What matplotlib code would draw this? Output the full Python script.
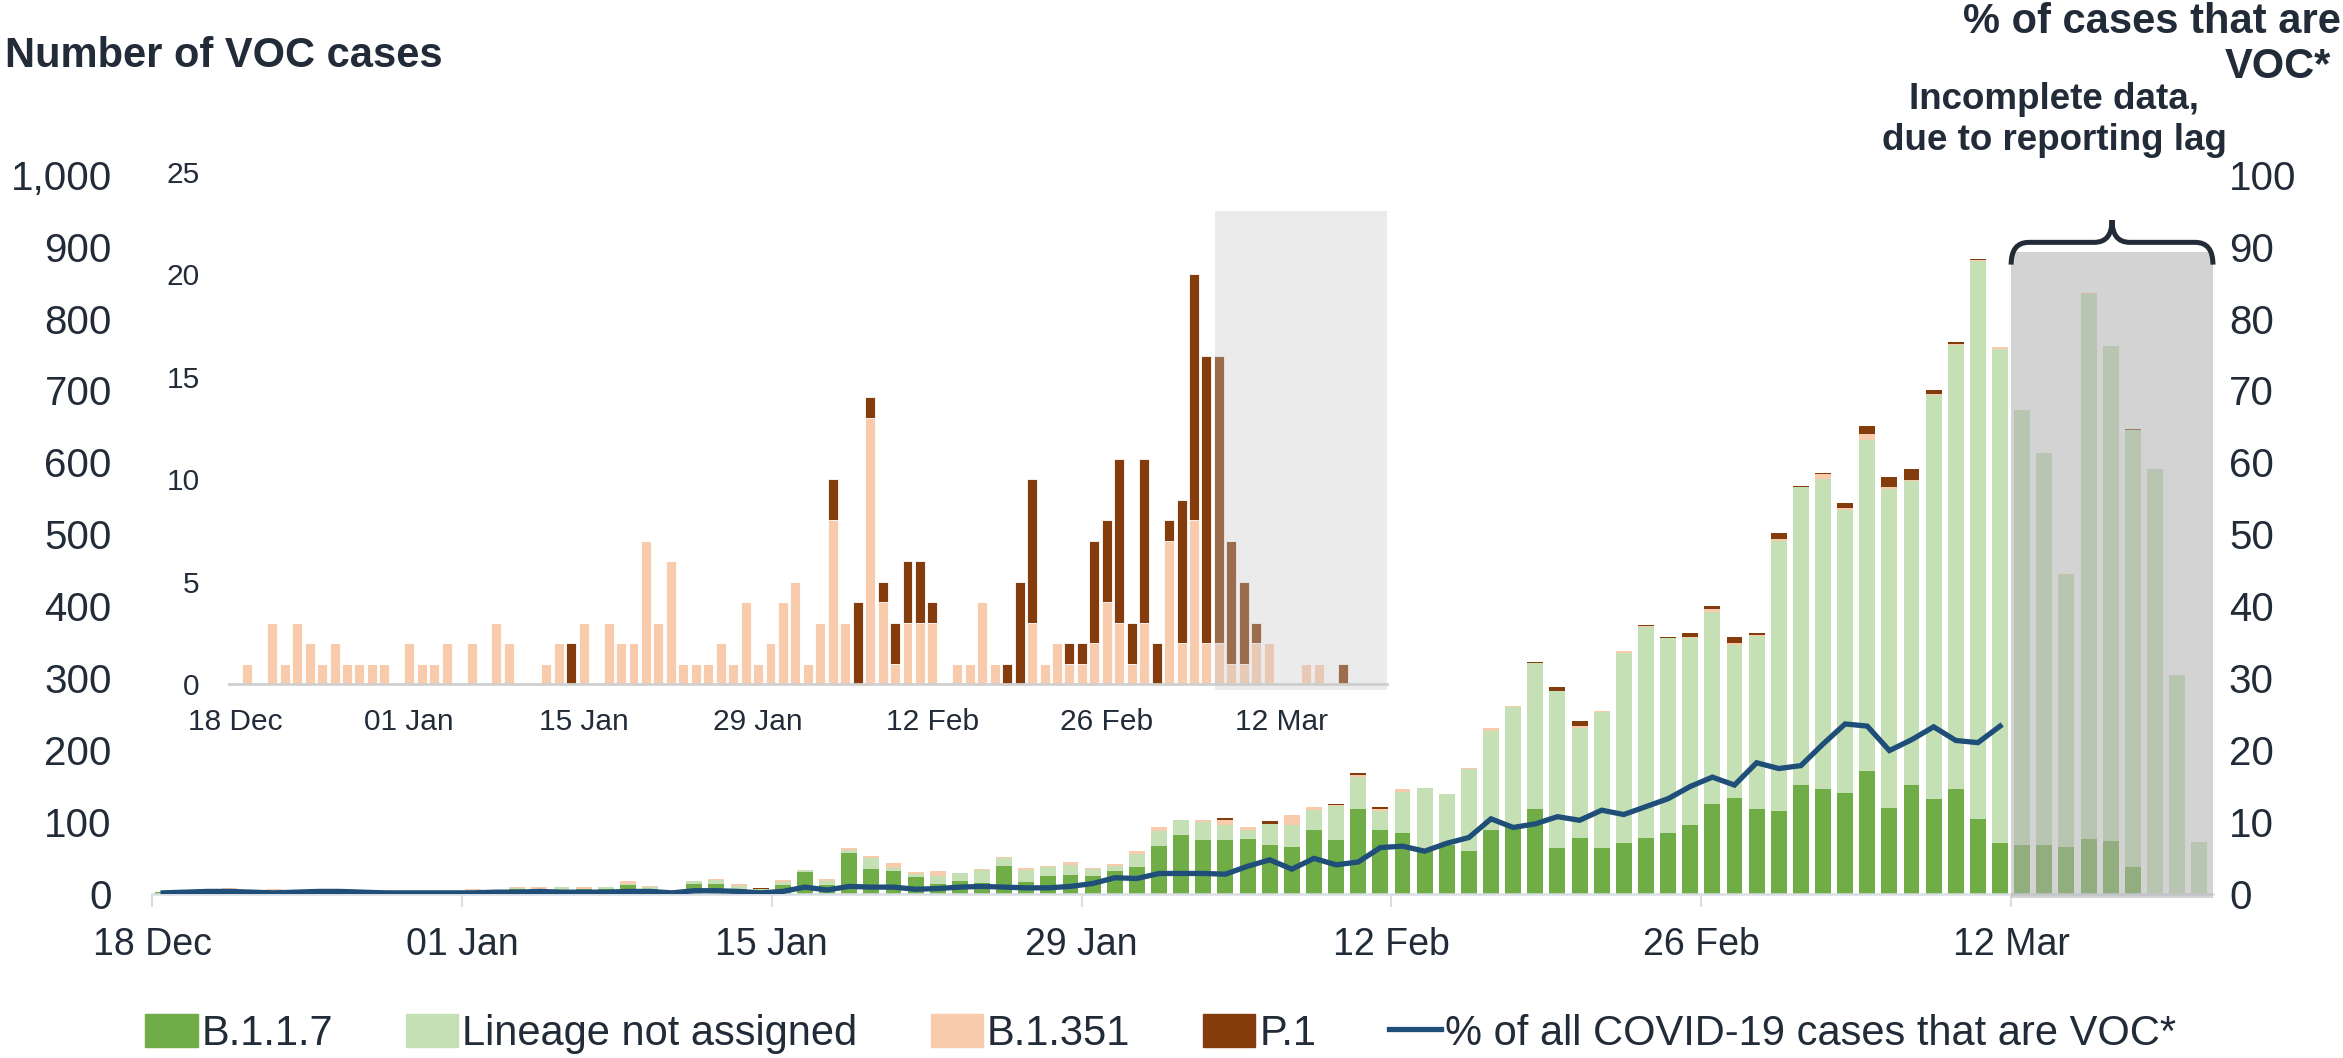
import matplotlib
matplotlib.use("Agg")
import matplotlib.pyplot as plt
import numpy as np
from matplotlib.patches import Rectangle, Patch, PathPatch
from matplotlib.lines import Line2D
from matplotlib.path import Path

plt.rcParams['font.family'] = ['Liberation Sans', 'DejaVu Sans']

# daily values, 18 Dec .. 20 Mar (93 days)
b117 = [2, 1, 1, 3, 1, 2, 1, 3, 2, 1, 3, 1, 2, 1, 2, 1, 6, 5, 5, 6,
        6, 12, 7, 2, 14, 13, 7, 3, 12, 30, 12, 57, 34, 32, 23, 14, 18, 15, 38, 16,
        24, 26, 24, 32, 37, 66, 82, 74, 75, 76, 68, 65, 89, 75, 118, 88, 84, 59, 68, 59,
        88, 92, 117, 63, 77, 64, 71, 77, 84, 95, 124, 133, 118, 115, 151, 146, 140, 170, 119, 151,
        131, 146, 104, 70, 67, 68, 65, 76, 73, 37, 0, 0, 0]
lineage_na = [0, 1, 1, 2, 1, 1, 1, 1, 2, 1, 1, 1, 1, 1, 2, 1, 2, 2, 4, 1,
              3, 2, 2, 1, 4, 6, 4, 3, 4, 3, 5, 4, 16, 4, 4, 11, 10, 18, 12, 17,
              13, 14, 10, 7, 18, 21, 20, 25, 20, 13, 29, 31, 27, 47, 44, 27, 58, 88, 70, 115,
              138, 168, 204, 219, 153, 189, 264, 294, 271, 260, 268, 213, 241, 375, 414, 431, 394, 461, 444, 423,
              563, 617, 776, 688, 606, 545, 378, 758, 689, 608, 591, 304, 72]
b1351 = [0, 1, 0, 3, 1, 3, 2, 1, 2, 1, 1, 1, 1, 0, 2, 1, 1, 2, 0, 2,
         0, 3, 2, 0, 0, 1, 2, 0, 3, 0, 3, 2, 2, 7, 3, 6, 1, 1, 1, 2,
         1, 4, 1, 2, 4, 5, 1, 3, 8, 3, 0, 13, 4, 1, 3, 3, 3, 0, 1, 1,
         4, 1, 0, 0, 3, 1, 2, 1, 1, 2, 4, 3, 1, 3, 0, 7, 2, 8, 2, 2,
         1, 1, 2, 2, 0, 0, 1, 1, 0, 0, 0, 0, 0]
p1 = [0, 0, 0, 0, 0, 0, 0, 0, 0, 0, 0, 0, 0, 0, 0, 0, 0, 0, 0, 0,
      0, 0, 0, 0, 0, 0, 0, 2, 0, 0, 0, 0, 0, 0, 0, 0, 0, 0, 0, 0,
      0, 0, 0, 0, 0, 0, 0, 0, 2, 0, 4, 1, 1, 2, 3, 3, 1, 0, 0, 0,
      0, 0, 1, 5, 7, 0, 0, 1, 1, 5, 4, 8, 2, 8, 2, 1, 7, 12, 14, 14,
      6, 4, 1, 0, 0, 0, 0, 0, 0, 1, 0, 0, 0]
# % of all COVID-19 cases that are VOC, 18 Dec .. 11 Mar
pct_voc = [0.1, 0.2, 0.3, 0.3, 0.2, 0.1, 0.2, 0.3, 0.3, 0.2, 0.1, 0.1, 0.1, 0.1, 0.1, 0.2, 0.2, 0.3, 0.2, 0.2,
           0.2, 0.3, 0.3, 0.1, 0.4, 0.4, 0.3, 0.1, 0.3, 0.9, 0.5, 1.0, 0.9, 0.9, 0.6, 0.7, 0.9, 1.0, 0.9, 0.8,
           0.8, 1.0, 1.4, 2.2, 2.1, 2.8, 2.8, 2.8, 2.7, 3.8, 4.7, 3.4, 4.9, 4.0, 4.4, 6.4, 6.6, 5.9, 7.0, 7.8,
           10.4, 9.2, 9.7, 10.7, 10.2, 11.6, 11.0, 12.1, 13.2, 14.9, 16.2, 15.1, 18.2, 17.4, 17.8, 20.8, 23.6, 23.3, 19.9, 21.4,
           23.2, 21.3, 21.0, 23.3]
tick_days = [0, 14, 28, 42, 56, 70, 84]
tick_labels = ['18 Dec', '01 Jan', '15 Jan', '29 Jan', '12 Feb', '26 Feb', '12 Mar']
lag_start = 84       # first day with incomplete data (12 Mar)
inset_lag_start = 79

GREEN = '#70ad47'
LIGHTGREEN = '#c5e0b4'
PEACH = '#f8cbad'
BROWN = '#843c0c'
NAVY = '#1f4e79'
TXT = '#222b38'

days = np.arange(len(b117))
g = np.array(b117)
l = np.array(lineage_na)
o = np.array(b1351)
p = np.array(p1)

fig = plt.figure(figsize=(23.43, 10.58), dpi=100)
ax = fig.add_axes([0.0649, 0.1554, 0.8796, 0.6794])

w = 0.72
ax.bar(days, g, width=w, color=GREEN, zorder=2)
ax.bar(days, l, width=w, bottom=g, color=LIGHTGREEN, zorder=2)
ax.bar(days, o, width=w, bottom=g + l, color=PEACH, zorder=2)
ax.bar(days, p, width=w, bottom=g + l + o, color=BROWN, zorder=2)

ax.set_xlim(-0.5, 92.62)
ax.set_ylim(0, 1000)
ax.set_yticks(range(0, 1001, 100))
ax.set_yticklabels([f'{v:,}' for v in range(0, 1001, 100)])
ax.set_xticks([d - 0.5 for d in tick_days])
ax.set_xticklabels(tick_labels)
for s in ['top', 'left', 'right']:
    ax.spines[s].set_visible(False)
ax.spines['bottom'].set_color('#d9dee5')
ax.spines['bottom'].set_linewidth(1.8)
ax.tick_params(axis='x', length=9, width=1.5, color='#d9dee5', pad=15,
               labelsize=27, labelcolor=TXT)
ax.tick_params(axis='y', length=0, pad=29, labelsize=29, labelcolor=TXT)

# grey box for incomplete data
ax.add_patch(Rectangle((lag_start - 0.5, -6), 92.62 - lag_start + 0.5, 898,
                       facecolor='#afafaf', alpha=0.55, edgecolor='none',
                       zorder=3, clip_on=False))

# curly brace over the grey box
x0, x1 = lag_start - 0.5, 92.62
xc = (x0 + x1) / 2
yb, ym, yt = 875, 906, 937
rx = 0.8
verts = [(x0, yb), (x0, ym), (x0 + rx, ym), (xc - rx, ym), (xc, ym), (xc, yt),
         (xc, ym), (xc + rx, ym), (x1 - rx, ym), (x1, ym), (x1, yb)]
codes = [Path.MOVETO, Path.CURVE3, Path.CURVE3, Path.LINETO, Path.CURVE3, Path.CURVE3,
         Path.CURVE3, Path.CURVE3, Path.LINETO, Path.CURVE3, Path.CURVE3]
ax.add_patch(PathPatch(Path(verts, codes), facecolor='none', edgecolor=TXT,
                       lw=3.6, capstyle='butt', zorder=5, clip_on=False))

ax2 = ax.twinx()
ax2.plot(np.arange(len(pct_voc)), pct_voc, color=NAVY, lw=3.8, solid_joinstyle='miter')
ax2.set_ylim(0, 100)
ax2.set_yticks(range(0, 101, 10))
for s in ['top', 'left', 'right', 'bottom']:
    ax2.spines[s].set_visible(False)
ax2.tick_params(axis='y', length=0, pad=11.5, labelsize=29, labelcolor=TXT)

# inset: B.1.351 and P.1 only
axi = fig.add_axes([0.0976, 0.3535, 0.4944, 0.4839])
axi.set_facecolor('none')
axi.bar(days, o, width=0.8, color=PEACH, edgecolor='white', linewidth=0.6)
axi.bar(days, p, width=0.8, bottom=o, color=BROWN, edgecolor='white', linewidth=0.6)
axi.set_xlim(-0.5, 92.5)
axi.set_ylim(0, 25)
axi.set_yticks(range(0, 26, 5))
axi.set_xticks(tick_days)
axi.set_xticklabels(tick_labels)
for s in ['top', 'left', 'right']:
    axi.spines[s].set_visible(False)
axi.spines['bottom'].set_color('#d0d0d0')
axi.spines['bottom'].set_linewidth(2)
axi.tick_params(axis='both', length=0, labelsize=21.5, labelcolor=TXT)
axi.tick_params(axis='x', pad=17)
axi.tick_params(axis='y', pad=21)
axi.add_patch(Rectangle((inset_lag_start - 0.3, -0.3), 92.5 - inset_lag_start + 0.3, 23.4,
                        facecolor='#c8c8c8', alpha=0.35, edgecolor='none',
                        zorder=3, clip_on=False))

# titles and notes
fig.text(0.002, 0.947, 'Number of VOC cases', ha='left', va='center',
         fontsize=30, fontweight='bold', color=TXT)
fig.text(0.999, 0.979, '% of cases that are', ha='right', va='center',
         fontsize=30, fontweight='bold', color=TXT)
fig.text(0.995, 0.937, 'VOC*', ha='right', va='center',
         fontsize=30, fontweight='bold', color=TXT)
fig.text(0.8767, 0.8865, 'Incomplete data,\ndue to reporting lag', ha='center', va='center',
         fontsize=26.5, fontweight='bold', color=TXT, linespacing=1.25)

handles = [Patch(color=GREEN), Patch(color=LIGHTGREEN), Patch(color=PEACH), Patch(color=BROWN),
           Line2D([0], [0], color=NAVY, lw=3.8)]
labels = ['B.1.1.7', 'Lineage not assigned', 'B.1.351', 'P.1', '% of all COVID-19 cases that are VOC*']
leg = fig.legend(handles, labels, loc='center', bbox_to_anchor=(0.4955, 0.0227), ncol=5,
                 frameon=False, fontsize=30, handlelength=1.25, handleheight=0.85,
                 handletextpad=0.1, columnspacing=1.75, borderaxespad=0)
for t in leg.get_texts():
    t.set_color(TXT)

fig.savefig('out.png', dpi=100)
